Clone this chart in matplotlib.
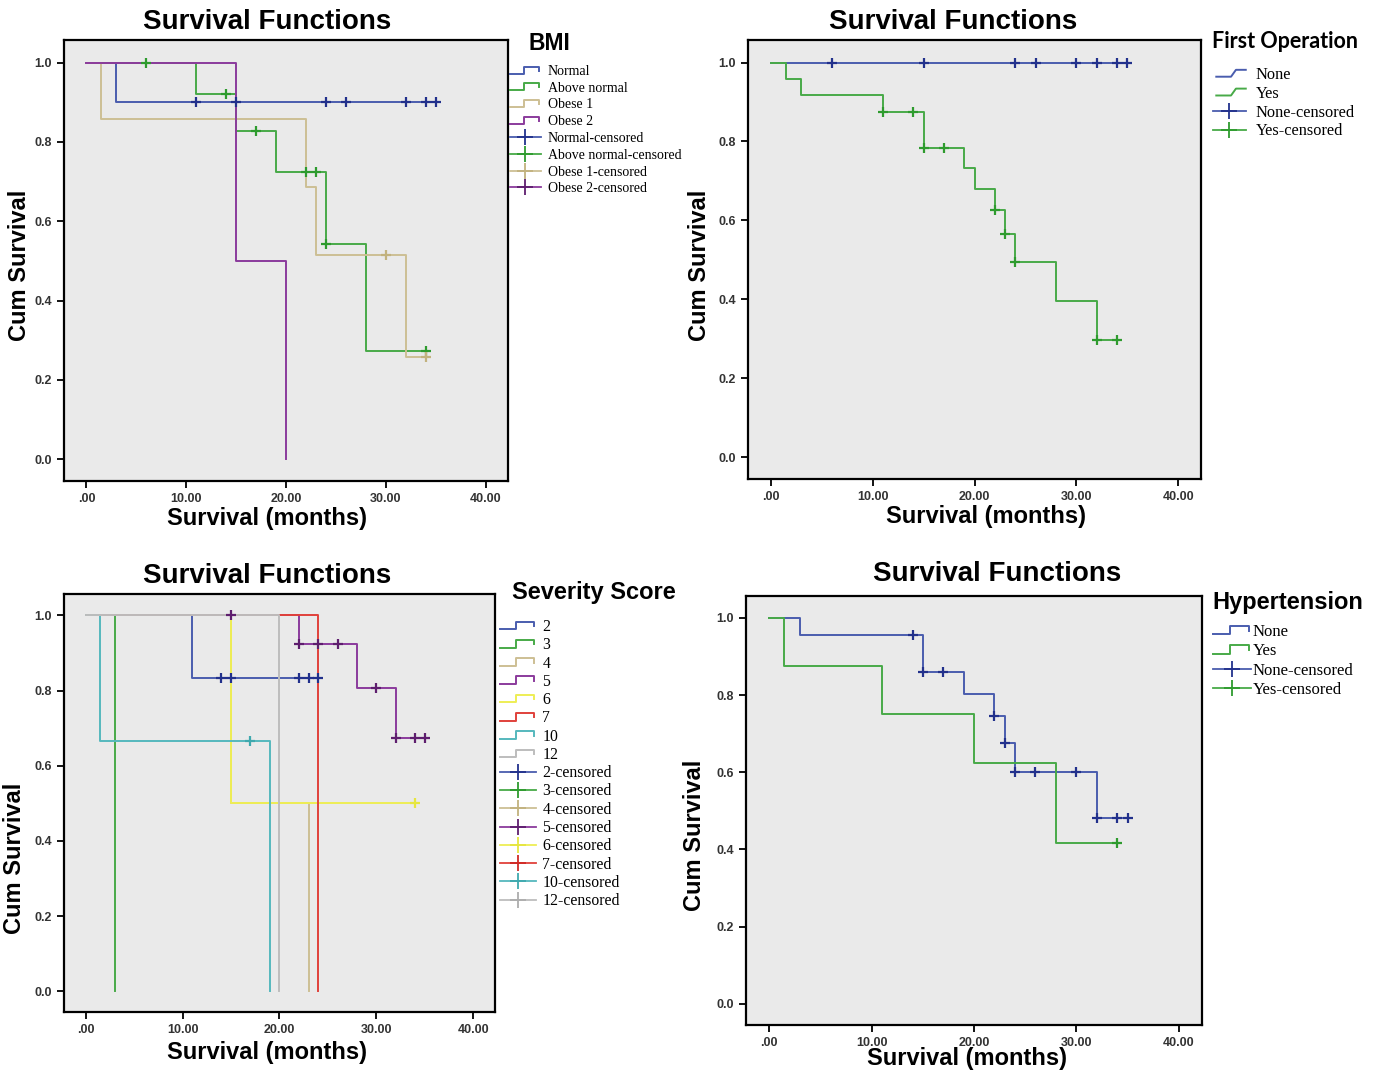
import numpy as np
import matplotlib
matplotlib.use("Agg")
import matplotlib.pyplot as plt
from matplotlib.lines import Line2D
from matplotlib.legend_handler import HandlerBase

# ---- data ----
# each curve: event times + survival after each event, last follow-up, censored times
bmi_labels = ["Normal", "Above normal", "Obese 1", "Obese 2"]
bmi_times = [[0, 3], [0, 11, 15, 19, 24, 28], [0, 1.5, 22, 23, 32], [0, 15, 20]]
bmi_surv = [[1.0, 0.9], [1.0, 0.92, 0.828, 0.724, 0.543, 0.272],
            [1.0, 0.857, 0.686, 0.514, 0.257], [1.0, 0.5, 0.0]]
bmi_end = [35, 34, 34, 20]
bmi_cens = [[11, 15, 24, 26, 32, 34, 35], [6, 14, 17, 22, 23, 24, 34], [30, 34], []]

op_labels = ["None", "Yes"]
op_times = [[0], [0, 1.5, 3, 11, 15, 19, 20, 22, 23, 24, 28, 32]]
op_surv = [[1.0], [1.0, 0.958, 0.917, 0.875, 0.784, 0.732, 0.679, 0.627, 0.565, 0.494, 0.396, 0.297]]
op_end = [35, 34]
op_cens = [[6, 15, 24, 26, 30, 32, 34, 35], [11, 14, 15, 17, 22, 23, 24, 32, 34]]

sev_labels = ["2", "3", "4", "5", "6", "7", "10", "12"]
sev_times = [[0, 11], [0, 3], [0, 15, 23], [0, 22, 28, 32], [0, 15], [0, 24], [0, 1.5, 19], [0, 20]]
sev_surv = [[1.0, 0.833], [1.0, 0.0], [1.0, 0.5, 0.0], [1.0, 0.923, 0.808, 0.673],
            [1.0, 0.5], [1.0, 0.0], [1.0, 0.667, 0.0], [1.0, 0.0]]
sev_end = [24, 3, 23, 35, 34, 24, 19, 20]
sev_cens = [[14, 15, 22, 23, 24], [], [], [15, 22, 24, 26, 30, 32, 34, 35], [34], [], [17], []]

ht_labels = ["None", "Yes"]
ht_times = [[0, 3, 15, 19, 22, 23, 24, 32], [0, 1.5, 11, 20, 28]]
ht_surv = [[1.0, 0.955, 0.859, 0.802, 0.745, 0.677, 0.601, 0.481], [1.0, 0.875, 0.75, 0.625, 0.417]]
ht_end = [35, 34]
ht_cens = [[14, 15, 17, 22, 23, 24, 26, 30, 32, 34, 35], [34]]

xticks = [0, 10, 20, 30, 40]
xticklabels = [".00", "10.00", "20.00", "30.00", "40.00"]
yticks = [0.0, 0.2, 0.4, 0.6, 0.8, 1.0]

# SPSS-like palette: line colour, censor-mark colour
line_cols = ["#4A5DAE", "#48AA48", "#CDBF94", "#8B3B9C", "#EEEE55", "#E0413B", "#55B8BD", "#BDBDBD"]
mark_cols = ["#22318C", "#2E9B2E", "#C2B27E", "#5E1E6E", "#E6E640", "#D02A25", "#3FA9AE", "#ADADAD"]

W, H = 1381, 1070
SANS = "Liberation Sans"
SERIF = "Liberation Serif"


class StepProxy:
    def __init__(self, color, shape):
        self.color = color
        self.shape = shape


class StepHandler(HandlerBase):
    def create_artists(self, legend, orig_handle, xdescent, ydescent, width, height, fontsize, trans):
        if orig_handle.shape == "slant":
            xs = np.array([0.1, 0.55, 0.7, 1.0])
            ys = np.array([0.2, 0.2, 0.8, 0.8])
        else:
            xs = np.array([0.0, 0.45, 0.45, 0.95, 0.95])
            ys = np.array([0.15, 0.15, 0.85, 0.85, 0.45])
        ln = Line2D(xs * width - xdescent, ys * height - ydescent,
                    color=orig_handle.color, lw=1.4, transform=trans)
        return [ln]


fig = plt.figure(figsize=(W / 100, H / 100), dpi=100)


def px(x, y):
    return x / W, 1 - y / H


def add_axes(l, t, r, b):
    return fig.add_axes([l / W, 1 - b / H, (r - l) / W, (b - t) / H])


def km_panel(ax, times, surv, ends, cens, cols):
    ax.set_facecolor("#EAEAEA")
    for i in range(len(times)):
        t = list(times[i]) + [ends[i]]
        s = list(surv[i]) + [surv[i][-1]]
        ax.step(t, s, where="post", color=line_cols[cols[i]], lw=1.4, zorder=2)
    for i in range(len(times)):
        if not cens[i]:
            continue
        idx = np.searchsorted(times[i], cens[i], side="right") - 1
        ys = np.array(surv[i])[idx]
        ax.plot(cens[i], ys, ls="none", marker="+", ms=7, mew=1.6,
                color=mark_cols[cols[i]], zorder=3)
    ax.set_xlim(-2.25, 42.25)
    ax.set_ylim(-0.055, 1.057)
    ax.set_xticks(xticks)
    ax.set_xticklabels(xticklabels)
    ax.set_yticks(yticks)
    ax.set_yticklabels(["%.1f" % v for v in yticks])
    ax.tick_params(direction="out", length=5, width=1.3, labelsize=9, pad=3.5)
    for lab in ax.get_xticklabels() + ax.get_yticklabels():
        lab.set_fontfamily(SANS)
        lab.set_fontweight("bold")
        lab.set_color("#333333")
    for sp in ax.spines.values():
        sp.set_linewidth(1.6)


def km_legend(ax, labels, cols, shape, anchor, fontsize, spacing, hlen, pad):
    handles = [StepProxy(line_cols[c], shape) for c in cols]
    handles += [Line2D([], [], color=line_cols[c], lw=1.3, marker="+", ms=11, mew=1.3,
                       markeredgecolor=mark_cols[c]) for c in cols]
    names = list(labels) + [l + "-censored" for l in labels]
    ax.legend(handles, names, handler_map={StepProxy: StepHandler()},
              loc="upper left", bbox_to_anchor=px(*anchor), bbox_transform=fig.transFigure,
              frameon=False, borderpad=0, borderaxespad=0, numpoints=1,
              handlelength=hlen, handletextpad=pad, labelspacing=spacing,
              prop={"family": SERIF, "size": fontsize})


def labels(title_xy, xlab_xy, ylab_xy):
    fig.text(*px(*title_xy), "Survival Functions", ha="center", va="center",
             fontsize=20, fontweight="bold", family=SANS)
    fig.text(*px(*xlab_xy), "Survival (months)", ha="center", va="center",
             fontsize=17, fontweight="bold", family=SANS)
    fig.text(*px(*ylab_xy), "Cum Survival", ha="center", va="center", rotation=90,
             fontsize=17, fontweight="bold", family=SANS)


# top left: BMI
ax1 = add_axes(64, 40, 508, 481)
km_panel(ax1, bmi_times, bmi_surv, bmi_end, bmi_cens, [0, 1, 2, 3])
km_legend(ax1, bmi_labels, [0, 1, 2, 3], "box", (510, 65), 10, 0.27, 2.2, 0.5)
labels((267, 22), (267, 518), (20, 265))
fig.text(*px(528, 44), "BMI", ha="left", va="center", fontsize=16.5,
         fontweight="bold", family=SANS)

# top right: First Operation
ax2 = add_axes(748, 40, 1201, 479)
km_panel(ax2, op_times, op_surv, op_end, op_cens, [0, 1])
km_legend(ax2, op_labels, [0, 1], "slant", (1213, 67), 11.8, 0.17, 2.0, 0.6)
labels((953, 22), (986, 517), (700, 265))
fig.text(*px(1212, 41), "First Operation", ha="left", va="center", fontsize=15.5,
         fontweight="bold", family="Lato")

# bottom left: Severity Score
ax3 = add_axes(64, 594, 495, 1012)
km_panel(ax3, sev_times, sev_surv, sev_end, sev_cens, list(range(8)))
km_legend(ax3, sev_labels, list(range(8)), "box", (500, 619), 11.3, 0.145, 2.3, 0.4)
labels((267, 576), (267, 1053), (15, 858))
fig.text(*px(512, 593), "Severity Score", ha="left", va="center", fontsize=17,
         fontweight="bold", family=SANS)

# bottom right: Hypertension
ax4 = add_axes(746, 596, 1202, 1025)
km_panel(ax4, ht_times, ht_surv, ht_end, ht_cens, [0, 1])
km_legend(ax4, ht_labels, [0, 1], "box", (1213, 624), 12, 0.2, 2.3, 0.1)
labels((997, 574), (967, 1059), (695, 835))
fig.text(*px(1212, 603), "Hypertension", ha="left", va="center", fontsize=17,
         fontweight="bold", family=SANS)

fig.savefig("out.png", dpi=100, facecolor="white")
